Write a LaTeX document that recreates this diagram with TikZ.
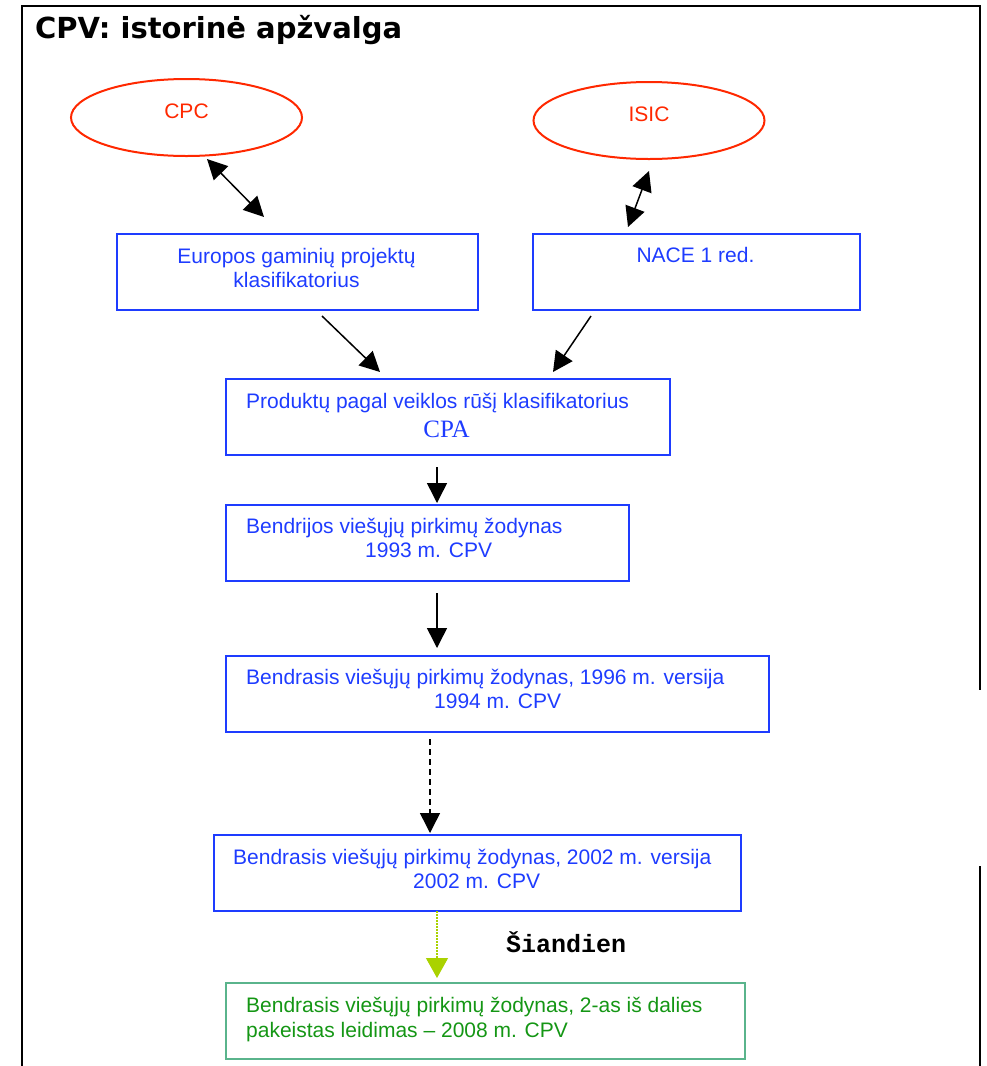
\documentclass[tikz,border=0pt]{standalone}
\usepackage{fontspec}
\setmainfont{Liberation Sans}
\newfontfamily\titlefont{DejaVu Sans}
\newfontfamily\timesfont{Liberation Serif}
\newfontfamily\courierfont{Liberation Mono}
\usetikzlibrary{arrows.meta,shapes.geometric}
\definecolor{boxblue}{RGB}{30,60,255}
\definecolor{ovalred}{RGB}{255,40,0}
\definecolor{nowgreen}{RGB}{20,150,20}
\definecolor{nowframe}{RGB}{90,180,140}
\definecolor{todaytip}{RGB}{170,210,0}
\begin{document}
\begin{tikzpicture}[x=1pt,y=-1pt,
    frame/.style={line width=2.5pt,black},
    box/.style={draw=boxblue,line width=2pt,anchor=north west,
      minimum width=#1,minimum height=76pt,inner sep=0pt},
    oval/.style={ellipse,draw=ovalred,line width=2pt,
      minimum width=231pt,minimum height=77pt,inner sep=0pt},
    txt/.style={text=boxblue,inner sep=0pt,font=\fontsize{21}{24}\selectfont},
    redtxt/.style={text=ovalred,inner sep=0pt,font=\fontsize{21}{24}\selectfont},
    flow/.style={line width=1.5pt,-{Triangle[length=20pt,width=20pt]}},
    both/.style={line width=1.5pt,{Triangle[length=20pt,width=20pt]}-{Triangle[length=20pt,width=20pt]}}]
  \useasboundingbox (0,0) rectangle (987,1066);
  % page frame
  \draw[frame] (22,1066) -- (22,6) -- (980,6) -- (980,690);
  \draw[frame] (980,866) -- (980,1066);
  \node[anchor=base west,inner sep=0pt,
    font=\titlefont\bfseries\fontsize{29}{34}\selectfont] (title) at (35,38) {CPV: istorinė apžvalga};
  % sources
  \node[oval] (cpc) at (186.5,117.5) {};
  \node[redtxt,anchor=base] (cpct) at (186.5,118) {CPC};
  \node[oval] (isic) at (649,120.5) {};
  \node[redtxt,anchor=base] (isict) at (649,121) {ISIC};
  % boxes
  \node[box=361pt] (epk) at (116,233) {};
  \node[txt,anchor=base] (epk1) at (296.5,263) {Europos gaminių projektų};
  \node[txt,anchor=base] (epk2) at (296.5,287) {klasifikatorius};
  \node[box=327pt] (nace) at (532,233) {};
  \node[txt,anchor=base] (nace1) at (695.5,262) {NACE 1 red.};
  \node[box=444pt] (cpa) at (225,378) {};
  \node[txt,anchor=base west] (cpa1) at (246,408) {Produktų pagal veiklos rūšį klasifikatorius};
  \node[txt,anchor=base,font=\timesfont\fontsize{25}{28}\selectfont] (cpa2) at (446.5,437) {CPA};
  \node[box=403pt] (bvpz93) at (225,504) {};
  \node[txt,anchor=base west] (bvpz93a) at (246,533) {Bendrijos viešųjų pirkimų žodynas};
  \node[txt,anchor=base west] (bvpz93b) at (365,557) {1993 m. CPV};
  \node[box=543pt] (bvpz96) at (225,655) {};
  \node[txt,anchor=base west] (bvpz96a) at (246,684) {Bendrasis viešųjų pirkimų žodynas, 1996 m. versija};
  \node[txt,anchor=base west] (bvpz96b) at (434,708) {1994 m. CPV};
  \node[box=527pt] (bvpz02) at (213,834) {};
  \node[txt,anchor=base west] (bvpz02a) at (233,864) {Bendrasis viešųjų pirkimų žodynas, 2002 m. versija};
  \node[txt,anchor=base west] (bvpz02b) at (413,888) {2002 m. CPV};
  \node[box=519pt,draw=nowframe] (bvpz08) at (225,982) {};
  \node[txt,text=nowgreen,anchor=base west] (bvpz08a) at (246,1012) {Bendrasis viešųjų pirkimų žodynas, 2-as iš dalies};
  \node[txt,text=nowgreen,anchor=base west] (bvpz08b) at (246,1037) {pakeistas leidimas – 2008 m. CPV};
  \node[anchor=base west,inner sep=0pt,
    font=\courierfont\bfseries\fontsize{25}{28}\selectfont] (today) at (506,952) {Šiandien};
  % connectors
  \begin{scope}
    \draw[both] ([shift={(20.5,2)}]cpc.south) to ([shift={(-33.5,-16)}]epk.north);
    \draw[both] ([shift={(0,11)}]isic.south) to ([shift={(-68.5,-6)}]nace.north);
    \draw[flow] ([shift={(24.5,5)}]epk.south) to ([shift={(-68,-6)}]cpa.north);
    \draw[flow] ([shift={(-105.5,5)}]nace.south) to ([shift={(105,-6)}]cpa.north);
    \draw[flow] ([shift={(-11,11)}]cpa.south) to ([shift={(9.5,-1)}]bvpz93.north);
    \draw[flow] ([shift={(9.5,11)}]bvpz93.south) to ([shift={(-60.5,-7)}]bvpz96.north);
    \draw[flow,dash pattern=on 6pt off 4pt] ([shift={(-67.5,6)}]bvpz96.south) to ([shift={(-47.5,-1)}]bvpz02.north);
    \draw[todaytip,line width=1.2pt,dash pattern=on 1.5pt off 1.5pt,-{Triangle[length=20pt,width=22pt]}]
      ([shift={(-40.5,-1)}]bvpz02.south) to ([shift={(-48.5,-4)}]bvpz08.north);
  \end{scope}
\end{tikzpicture}
\end{document}
